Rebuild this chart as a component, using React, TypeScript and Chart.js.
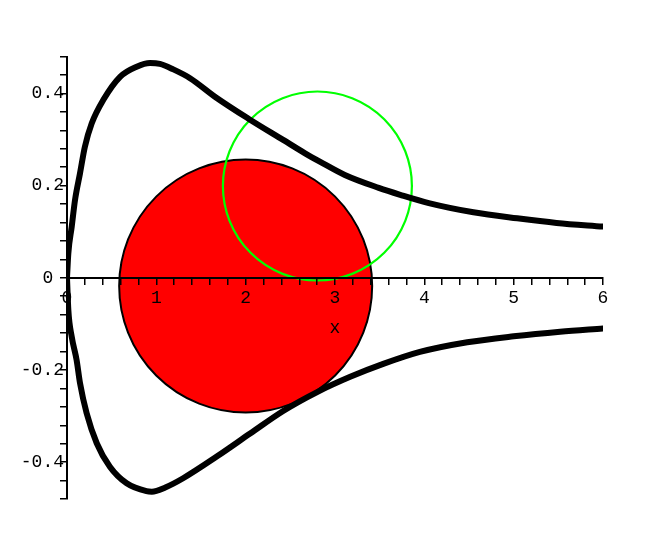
import React, { useEffect, useRef } from 'react';
import { Chart, registerables } from 'chart.js';

Chart.register(...registerables);

// Upper branch of the black curve
const upperX = [0, 0.015, 0.053, 0.09, 0.146, 0.2, 0.277, 0.407, 0.594, 0.78, 0.93, 1.04, 1.19, 1.377, 1.676, 2.04, 2.42, 2.665, 2.83, 3.11, 3.49, 3.73, 4.05, 4.55, 5.04, 5.48, 6.0];
const upperY = [0, 0.053, 0.111, 0.169, 0.227, 0.284, 0.335, 0.386, 0.436, 0.458, 0.466, 0.464, 0.452, 0.433, 0.39, 0.344, 0.299, 0.27, 0.252, 0.223, 0.195, 0.18, 0.162, 0.142, 0.129, 0.119, 0.111];

// Lower branch of the black curve
const lowerX = [0, 0.015, 0.053, 0.108, 0.146, 0.22, 0.333, 0.48, 0.668, 0.89, 0.95, 1.1, 1.3, 1.676, 2.05, 2.42, 2.8, 3.17, 3.54, 3.95, 4.48, 5.0, 5.52, 6.0];
const lowerY = [0, -0.07, -0.128, -0.179, -0.229, -0.294, -0.359, -0.41, -0.446, -0.463, -0.464, -0.455, -0.435, -0.388, -0.338, -0.289, -0.248, -0.215, -0.187, -0.161, -0.14, -0.127, -0.117, -0.11];

// Red disk and green circle centres
const diskCenter = { x: 2.0, y: -0.018 };
const ringCenter = { x: 2.803, y: 0.199 };

// Tick labels
const xTickValues = [0, 1, 2, 3, 4, 5, 6];
const xTickLabels = ['0', '1', '2', '3', '4', '5', '6'];
const yTickValues = [-0.4, -0.2, 0, 0.2, 0.4];
const yTickLabels = ['-0.4', '-0.2', '0 ', '0.2', '0.4'];
const xAxisTitle = 'x';

const toPoints = (xs: number[], ys: number[]) => xs.map((x, i) => ({ x, y: ys[i] }));

const findLabel = (v: number, values: number[], labels: string[]) => {
  for (let i = 0; i < values.length; i++) {
    if (Math.abs(v - values[i]) < 1e-6) return labels[i];
  }
  return '';
};

export default function App() {
  const ref = useRef<HTMLCanvasElement | null>(null);

  useEffect(() => {
    document.body.style.margin = '0';
    const canvas = ref.current;
    if (!canvas) return;
    const font = { family: '"Liberation Mono", "DejaVu Sans Mono", monospace', size: 18 };

    const curveStyle = {
      showLine: true,
      borderColor: '#000',
      borderWidth: 6,
      pointRadius: 0,
      cubicInterpolationMode: 'monotone',
      borderJoinStyle: 'round',
      borderCapStyle: 'round',
      order: 1,
    };

    const chart = new Chart(canvas, {
      type: 'scatter',
      data: {
        datasets: [
          { data: toPoints(upperX, upperY), ...curveStyle },
          { data: toPoints(lowerX, lowerY), ...curveStyle },
          {
            data: [ringCenter],
            showLine: false,
            pointStyle: 'circle',
            pointRadius: 94.5,
            pointBackgroundColor: 'rgba(0,0,0,0)',
            pointBorderColor: '#00ff00',
            pointBorderWidth: 2.2,
            order: 2,
          },
          {
            data: [diskCenter],
            showLine: false,
            pointStyle: 'circle',
            pointRadius: 126.5,
            pointBackgroundColor: '#ff0000',
            pointBorderColor: '#000',
            pointBorderWidth: 2,
            order: 3,
          },
        ],
      },
      options: {
        responsive: false,
        animation: false,
        events: [],
        devicePixelRatio: 1,
        layout: { autoPadding: false, padding: { left: 0, right: 67, top: 56.5, bottom: 57 } },
        plugins: { legend: { display: false }, tooltip: { enabled: false } },
        scales: {
          x: {
            type: 'linear',
            min: 0,
            max: 6,
            position: { y: 0 },
            afterFit: (s: any) => {
              s.height = 57;
            },
            ticks: {
              z: 1,
              stepSize: 0.2,
              maxTicksLimit: 200,
              autoSkip: false,
              maxRotation: 0,
              minRotation: 0,
              padding: 4,
              color: '#000',
              font,
              callback: (v: any) => findLabel(Number(v), xTickValues, xTickLabels),
            },
            grid: {
              z: 1,
              display: true,
              drawOnChartArea: false,
              drawTicks: true,
              tickLength: 6,
              tickWidth: 1.5,
              tickColor: '#000',
              color: '#000',
              lineWidth: 1.5,
            },
            border: { z: 1, display: true, color: '#000', width: 2 },
            title: {
              display: true,
              text: xAxisTitle,
              color: '#000',
              font,
              padding: { top: 0, bottom: -4 },
            },
          },
          y: {
            type: 'linear',
            min: -0.48,
            max: 0.48,
            position: 'left',
            afterFit: (s: any) => {
              s.width = 67;
            },
            ticks: {
              z: 1,
              stepSize: 0.04,
              maxTicksLimit: 200,
              autoSkip: false,
              padding: -4,
              crossAlign: 'near',
              color: '#000',
              font,
              callback: (v: any) => findLabel(Number(v), yTickValues, yTickLabels),
            },
            grid: {
              z: 1,
              display: true,
              drawOnChartArea: false,
              drawTicks: true,
              tickLength: 7,
              tickWidth: 1.5,
              tickColor: '#000',
              color: '#000',
              lineWidth: 1.5,
            },
            border: { z: 1, display: true, color: '#000', width: 2 },
          },
        },
      },
    } as any);

    return () => chart.destroy();
  }, []);

  return (
    <div style={{ width: 670, height: 556 }}>
      <canvas ref={ref} width={670} height={556} style={{ display: 'block' }} />
    </div>
  );
}
